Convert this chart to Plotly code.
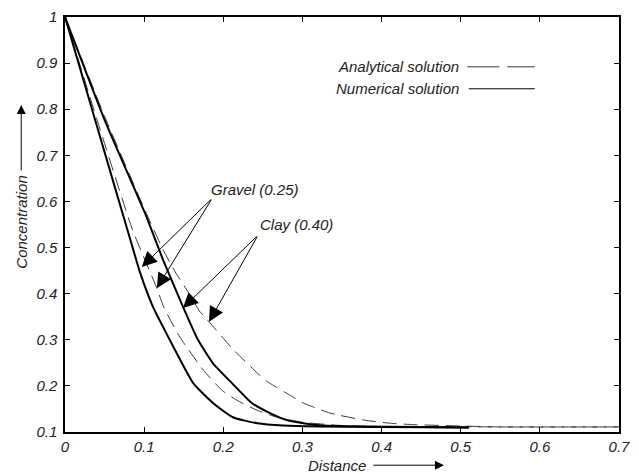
import plotly.graph_objects as go

# ---- data ----
gravel_num_x = [0, 0.038, 0.082, 0.095, 0.111, 0.126, 0.139, 0.162, 0.187, 0.212, 0.243, 0.276, 0.32, 0.40, 0.51]
gravel_num_y = [1, 0.777, 0.52, 0.445, 0.372, 0.321, 0.278, 0.206, 0.163, 0.132, 0.119, 0.114, 0.112, 0.111, 0.110]

clay_num_x = [0, 0.05, 0.101, 0.124, 0.149, 0.168, 0.187, 0.211, 0.236, 0.259, 0.280, 0.301, 0.326, 0.37, 0.45, 0.51]
clay_num_y = [1, 0.777, 0.575, 0.473, 0.372, 0.30, 0.249, 0.206, 0.163, 0.141, 0.126, 0.119, 0.114, 0.112, 0.111, 0.110]

gravel_ana_x = [0, 0.04, 0.085, 0.116, 0.125, 0.145, 0.175, 0.198, 0.217, 0.243, 0.268, 0.301, 0.35, 0.40, 0.55, 0.70]
gravel_ana_y = [1, 0.78, 0.54, 0.412, 0.37, 0.306, 0.234, 0.191, 0.169, 0.147, 0.132, 0.121, 0.114, 0.112, 0.111, 0.111]

clay_ana_x = [0, 0.05, 0.10, 0.124, 0.14, 0.155, 0.17, 0.182, 0.213, 0.243, 0.255, 0.288, 0.301, 0.335, 0.377, 0.411, 0.44, 0.50, 0.55, 0.70]
clay_ana_y = [1, 0.785, 0.585, 0.495, 0.445, 0.405, 0.362, 0.339, 0.278, 0.228, 0.21, 0.176, 0.163, 0.141, 0.126, 0.119, 0.116, 0.113, 0.111, 0.111]

x_ticks = [0, 0.1, 0.2, 0.3, 0.4, 0.5, 0.6, 0.7]
x_tick_labels = ["0", "0.1", "0.2", "0.3", "0.4", "0.5", "0.6", "0.7"]
y_ticks = [0.1, 0.2, 0.3, 0.4, 0.5, 0.6, 0.7, 0.8, 0.9, 1.0]
y_tick_labels = ["0.1", "0.2", "0.3", "0.4", "0.5", "0.6", "0.7", "0.8", "0.9", "1"]

FONT = "Liberation Sans, Arial, sans-serif"
ital = dict(family=FONT, size=15, color="#222", style="italic")

fig = go.Figure()
dash_style = dict(color="#3a3a3a", width=1, dash="14px,7px", shape="spline", smoothing=0.5)
solid_style = dict(color="black", width=2, shape="spline", smoothing=0.5)

fig.add_trace(go.Scatter(x=gravel_ana_x, y=gravel_ana_y, mode="lines", line=dash_style, showlegend=False))
fig.add_trace(go.Scatter(x=clay_ana_x, y=clay_ana_y, mode="lines", line=dash_style, showlegend=False))
fig.add_trace(go.Scatter(x=gravel_num_x, y=gravel_num_y, mode="lines", line=solid_style, showlegend=False))
fig.add_trace(go.Scatter(x=clay_num_x, y=clay_num_y, mode="lines", line=solid_style, showlegend=False))

axis_common = dict(
    showgrid=False, zeroline=False, showline=True, linecolor="black", linewidth=1.5,
    mirror="ticks", ticks="inside", ticklen=5, tickcolor="black", tickwidth=1,
    tickfont=ital, automargin=False,
)
fig.update_xaxes(range=[0, 0.7], tickvals=x_ticks, ticktext=x_tick_labels, **axis_common)
fig.update_yaxes(range=[0.1, 1.0], tickvals=y_ticks, ticktext=y_tick_labels, ticklabelstandoff=3, **axis_common)

annotations = []
# arrows for Gravel
g_tail = (0.186, 0.607)
for tip in [(0.097, 0.458), (0.116, 0.412)]:
    annotations.append(dict(x=tip[0], y=tip[1], ax=g_tail[0], ay=g_tail[1], xref="x", yref="y",
                            axref="x", ayref="y", showarrow=True, arrowhead=2, arrowsize=3,
                            arrowwidth=1, arrowcolor="black", text=""))
c_tail = (0.244, 0.527)
for tip in [(0.149, 0.369), (0.182, 0.339)]:
    annotations.append(dict(x=tip[0], y=tip[1], ax=c_tail[0], ay=c_tail[1], xref="x", yref="y",
                            axref="x", ayref="y", showarrow=True, arrowhead=2, arrowsize=3,
                            arrowwidth=1, arrowcolor="black", text=""))
annotations.append(dict(x=0.240, y=0.625, xref="x", yref="y", text="Gravel (0.25)", showarrow=False, font=ital))
annotations.append(dict(x=0.293, y=0.549, xref="x", yref="y", text="Clay (0.40)", showarrow=False, font=ital))

# legend text
annotations.append(dict(x=0.715, y=0.880, xref="paper", yref="paper", xanchor="right", yanchor="middle",
                        text="Analytical solution", showarrow=False, font=ital))
annotations.append(dict(x=0.715, y=0.827, xref="paper", yref="paper", xanchor="right", yanchor="middle",
                        text="Numerical solution", showarrow=False, font=ital))

# axis titles with arrows
annotations.append(dict(x=0.547, y=-0.08, xref="paper", yref="paper", xanchor="right", yanchor="middle",
                        text="Distance", showarrow=False, font=ital))
annotations.append(dict(x=0.684, y=-0.08, ax=-72, ay=0, xref="paper", yref="paper",
                        axref="pixel", ayref="pixel", showarrow=True, arrowhead=2, arrowsize=1.8,
                        arrowwidth=1, arrowcolor="black", text=""))
annotations.append(dict(x=-0.079, y=0.505, xref="paper", yref="paper", xanchor="center", yanchor="middle",
                        text="Concentration", textangle=-90, showarrow=False, font=ital))
annotations.append(dict(x=-0.079, y=0.788, ax=0, ay=67, xref="paper", yref="paper",
                        axref="pixel", ayref="pixel", showarrow=True, arrowhead=2, arrowsize=1.8,
                        arrowwidth=1, arrowcolor="black", text=""))

shapes = [
    dict(type="line", xref="paper", yref="paper", x0=0.726, x1=0.848, y0=0.880, y1=0.880,
         line=dict(color="#3a3a3a", width=1, dash="32px,8px")),
    dict(type="line", xref="paper", yref="paper", x0=0.729, x1=0.848, y0=0.827, y1=0.827,
         line=dict(color="black", width=1)),
]

fig.update_layout(
    width=631, height=466,
    margin=dict(l=57, r=20, t=9, b=42),
    paper_bgcolor="white", plot_bgcolor="white",
    annotations=annotations, shapes=shapes,
    font=dict(family=FONT),
)

fig.write_html("out.html")
